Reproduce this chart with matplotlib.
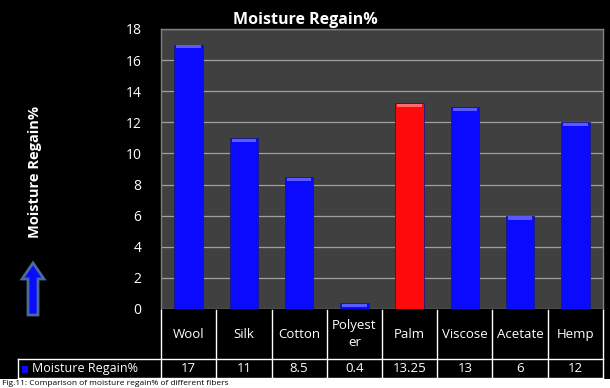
import matplotlib.pyplot as plt
from matplotlib.patches import FancyArrow, Rectangle
from matplotlib.lines import Line2D

plt.rcParams['font.family'] = ['Open Sans', 'DejaVu Sans']

fibers = ['Wool', 'Silk', 'Cotton', 'Polyest\ner', 'Palm', 'Viscose', 'Acetate', 'Hemp']
regain = [17, 11, 8.5, 0.4, 13.25, 13, 6, 12]
bar_colors = ['#0a0aff', '#0a0aff', '#0a0aff', '#0a0aff', '#ff0a0a', '#0a0aff', '#0a0aff', '#0a0aff']
top_colors = ['#5a5aff', '#5a5aff', '#5a5aff', '#5a5aff', '#ff6a6a', '#5a5aff', '#5a5aff', '#5a5aff']
series_name = 'Moisture Regain%'
yticks = [0, 2, 4, 6, 8, 10, 12, 14, 16, 18]

W, H = 610, 388


def fx(px):
    return px / W


def fy(py):
    return 1 - py / H


fig = plt.figure(figsize=(W / 100, H / 100), dpi=100, facecolor='black')
left, right, top, bottom = 161, 603, 29, 309
ax = fig.add_axes([fx(left), fy(bottom), fx(right - left), (bottom - top) / H])
ax.set_facecolor('#404040')

x = list(range(len(fibers)))
ax.bar(x, regain, width=0.52, color=bar_colors, edgecolor='#1a1a80', linewidth=0.6, zorder=3)
# lighter rim at the top of each bar
ax.bar(x, [0.2] * len(x), bottom=[v - 0.25 for v in regain], width=0.44,
       color=top_colors, linewidth=0, zorder=4)

ax.set_xlim(-0.5, len(fibers) - 0.5)
ax.set_ylim(0, 18)
ax.set_yticks(yticks)
ax.set_xticks([])
ax.yaxis.grid(True, color='#a0a0a0', linewidth=0.9, zorder=1)
ax.tick_params(axis='y', colors='white', labelsize=10, length=0, pad=14)
for s in ax.spines.values():
    s.set_color('#808080')
    s.set_linewidth(1.0)
ax.spines['bottom'].set_visible(False)

fig.text(0.5, fy(20), 'Moisture Regain%', color='white', fontsize=11.5,
         fontweight='bold', ha='center', va='center')
fig.text(fx(35), fy(172), series_name, color='white', fontsize=10.5,
         fontweight='bold', rotation=90, ha='center', va='center')

arrow = FancyArrow(fx(33), fy(315), 0, (315 - 263) / H, width=10 / W,
                   head_width=22 / W, head_length=16 / H,
                   length_includes_head=True, transform=fig.transFigure,
                   facecolor='#0a0aff', edgecolor='#4a6a9a', linewidth=2)
fig.add_artist(arrow)

# data table below the plot
row1, row2, row3 = 310, 359, 378
col_w = (right - left) / len(fibers)
lc = 'white'
lines = [
    (left, left, row1, row3),
    (18, 18, row2, row3),
    (18, right, row2, row2),
    (18, right, row3, row3),
    (right, right, row1, row3),
]
for i in range(1, len(fibers)):
    xp = left + i * col_w
    lines.append((xp, xp, row1, row3))
for x0, x1, y0, y1 in lines:
    fig.add_artist(Line2D([fx(x0), fx(x1)], [fy(y0), fy(y1)], color=lc,
                          linewidth=1, transform=fig.transFigure))

for i, (name, val) in enumerate(zip(fibers, regain)):
    cx = fx(left + (i + 0.5) * col_w)
    fig.text(cx, fy((row1 + row2) / 2), name, color='white', fontsize=9.5,
             ha='center', va='center', linespacing=1.4)
    fig.text(cx, fy((row2 + row3) / 2), f'{val:g}', color='white', fontsize=9.5,
             ha='center', va='center')

fig.add_artist(Rectangle((fx(22), fy(373)), 6 / W, 7 / H, transform=fig.transFigure,
                         facecolor='#0a0aff', edgecolor='none'))
fig.text(fx(32), fy((row2 + row3) / 2), series_name, color='white', fontsize=9,
         ha='left', va='center')

# figure caption strip
fig.add_artist(Rectangle((0, 0), 1, fy(379), transform=fig.transFigure,
                         facecolor='white', edgecolor='none'))
fig.text(fx(2), fy(383.5), 'Fig.11: Comparison of moisture regain% of different fibers',
         color='black', fontsize=6, ha='left', va='center')

fig.savefig('out.png', dpi=100, facecolor='black')
